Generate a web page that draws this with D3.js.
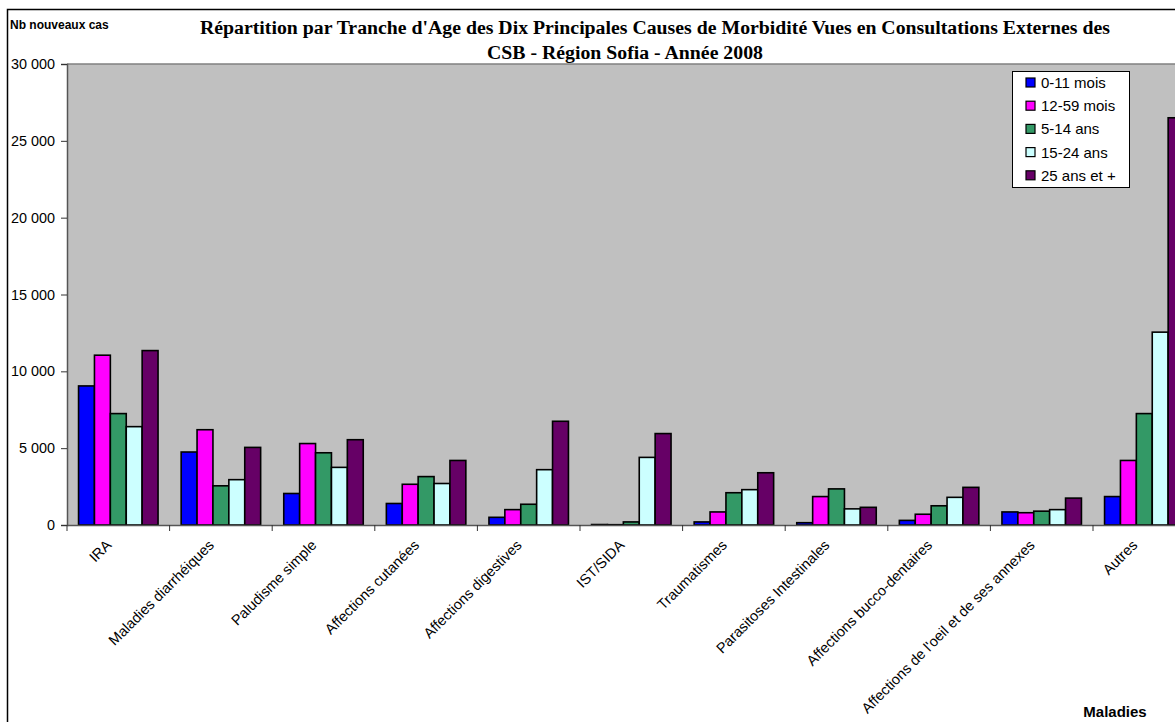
<!DOCTYPE html>
<html>
<head>
<meta charset="utf-8">
<script src="https://cdn.jsdelivr.net/npm/d3@7"></script>
<style>
  body { margin: 0; background: #fff; }
  svg { display: block; font-family: "Liberation Sans", Arial, sans-serif; }
</style>
</head>
<body>
<div id="chart"></div>
<script>
// categories (maladies) and age groups
const categories = ["IRA", "Maladies diarrhéiques", "Paludisme simple", "Affections cutanées",
  "Affections digestives", "IST/SIDA", "Traumatismes", "Parasitoses Intestinales",
  "Affections bucco-dentaires", "Affections de l'oeil et de ses annexes", "Autres"];
const seriesNames = ["0-11 mois", "12-59 mois", "5-14 ans", "15-24 ans", "25 ans et +"];

// values, one array per age group
const mois0_11   = [9050, 4750, 2050, 1400, 500, 30, 200, 150, 300, 850, 1850];
const mois12_59  = [11050, 6200, 5300, 2650, 1000, 20, 850, 1850, 700, 800, 4200];
const ans5_14    = [7250, 2550, 4700, 3150, 1350, 200, 2100, 2350, 1250, 900, 7250];
const ans15_24   = [6400, 2950, 3750, 2700, 3600, 4400, 2300, 1050, 1800, 1000, 12550];
const ans25plus  = [11350, 5050, 5550, 4200, 6750, 5950, 3400, 1150, 2450, 1750, 26500];
const yTicks = [0, 5000, 10000, 15000, 20000, 25000, 30000];

const colors = ["#0000FF", "#FF00FF", "#339966", "#CCFFFF", "#660066"];
const allSeries = [mois0_11, mois12_59, ans5_14, ans15_24, ans25plus];

const W = 1175, H = 722;
const plot = {left: 67, top: 64, bottom: 525, step: 102.6};

const svg = d3.select("#chart").append("svg")
  .attr("width", W).attr("height", H);

// outer chart frame
svg.append("rect")
  .attr("x", 7.5).attr("y", 9.5).attr("width", W + 20).attr("height", H + 20)
  .attr("fill", "#fff").attr("stroke", "#000").attr("stroke-width", 1.5);

const x0 = d3.scaleBand()
  .domain(categories)
  .range([plot.left, plot.left + categories.length * plot.step]);

const x1 = d3.scaleBand()
  .domain(d3.range(seriesNames.length))
  .range([0, x0.bandwidth()])
  .paddingOuter(0.727);

const y = d3.scaleLinear()
  .domain([0, 30000])
  .range([plot.bottom, plot.top]);

// plot background
svg.append("rect")
  .attr("x", plot.left).attr("y", plot.top)
  .attr("width", categories.length * plot.step).attr("height", plot.bottom - plot.top)
  .attr("fill", "#C0C0C0");
svg.append("line")
  .attr("x1", plot.left).attr("x2", W)
  .attr("y1", plot.top).attr("y2", plot.top)
  .attr("stroke", "#808080").attr("stroke-width", 1.5);

// bars
const groups = svg.append("g").selectAll("g")
  .data(categories)
  .join("g")
    .attr("transform", d => `translate(${x0(d)},0)`);

groups.selectAll("rect")
  .data((d, ci) => allSeries.map((s, si) => ({si, v: s[ci]})))
  .join("rect")
    .attr("x", d => x1(d.si))
    .attr("y", d => y(d.v))
    .attr("width", x1.bandwidth())
    .attr("height", d => plot.bottom - y(d.v))
    .attr("fill", d => colors[d.si])
    .attr("stroke", "#000")
    .attr("stroke-width", 1.6);

// Y axis
const fmt = v => d3.format(",")(v).replace(/,/g, " ");
const yAxis = svg.append("g")
  .attr("transform", `translate(${plot.left},0)`)
  .call(d3.axisLeft(y).tickValues(yTicks).tickFormat(fmt).tickSize(6).tickPadding(6));
yAxis.select(".domain").attr("stroke", "#555").attr("stroke-width", 1.5);
yAxis.selectAll(".tick line").attr("stroke", "#333");
yAxis.selectAll("text")
  .attr("font-family", "Liberation Sans, Arial, sans-serif")
  .attr("font-size", 14.4).attr("fill", "#000");

// X axis
const xAxis = svg.append("g")
  .attr("transform", `translate(0,${plot.bottom})`)
  .call(d3.axisBottom(x0).tickValues([]).tickSizeOuter(0));
xAxis.select(".domain").attr("stroke", "#555").attr("stroke-width", 1.5);
xAxis.selectAll(".bound")
  .data(d3.range(categories.length + 1))
  .join("line")
    .attr("x1", i => plot.left + i * plot.step)
    .attr("x2", i => plot.left + i * plot.step)
    .attr("y1", 0).attr("y2", 6)
    .attr("stroke", "#333");

// rotated category labels
svg.append("g").selectAll("text")
  .data(categories)
  .join("text")
    .attr("transform", d => `translate(${x0(d) + x0.bandwidth() / 2 - 6},${plot.bottom + 21}) rotate(-45)`)
    .attr("text-anchor", "end")
    .attr("font-size", 14.5)
    .text(d => d);

// titles
const title = svg.append("g")
  .attr("font-family", "Liberation Serif, 'Times New Roman', serif")
  .attr("font-weight", "bold")
  .attr("font-size", 19.8)
  .attr("text-anchor", "middle");
title.append("text").attr("x", 655).attr("y", 34)
  .text("Répartition par Tranche d'Age des Dix Principales Causes de Morbidité Vues en Consultations Externes des");
title.append("text").attr("x", 625).attr("y", 59)
  .text("CSB - Région Sofia - Année 2008");

svg.append("text")
  .attr("x", 10).attr("y", 29)
  .attr("font-weight", "bold").attr("font-size", 12)
  .text("Nb nouveaux cas");

svg.append("text")
  .attr("x", 1115).attr("y", 717)
  .attr("text-anchor", "middle")
  .attr("font-weight", "bold").attr("font-size", 15)
  .text("Maladies");

// legend
const legend = svg.append("g").attr("transform", "translate(1012,71)");
legend.append("rect")
  .attr("x", 0.5).attr("y", 0.5).attr("width", 117).attr("height", 116)
  .attr("fill", "#fff").attr("stroke", "#000");
const items = legend.selectAll(".item")
  .data(seriesNames)
  .join("g")
    .attr("transform", (d, i) => `translate(14,${12 + i * 23.2})`);
items.append("rect")
  .attr("x", 0).attr("y", -5).attr("width", 9).attr("height", 9)
  .attr("fill", (d, i) => colors[i]).attr("stroke", "#000").attr("stroke-width", 1.2);
items.append("text")
  .attr("x", 15).attr("y", 5)
  .attr("font-size", 15)
  .text(d => d);
</script>
</body>
</html>
